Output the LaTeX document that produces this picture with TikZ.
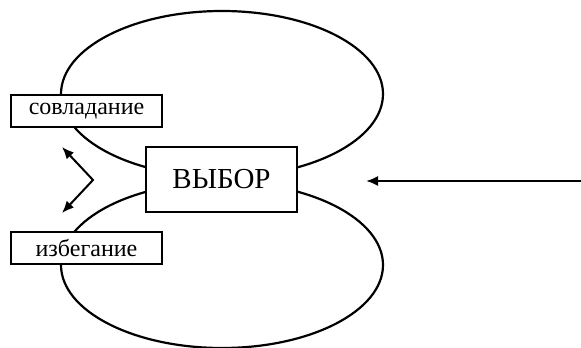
\documentclass[tikz,border=0pt]{standalone}
\usepackage{fontspec}
\setmainfont{Liberation Serif}
\usetikzlibrary{arrows.meta}
\begin{document}
\begin{tikzpicture}[x=1pt,y=-1pt,
  loop/.style={line width=2.2pt},
  box/.style={draw,line width=2.2pt,fill=white,inner sep=0pt},
  arr/.style={line width=2pt,-{Latex[length=12pt,width=10pt]}},
  darr/.style={line width=2pt,{Latex[length=12pt,width=10pt]}-{Latex[length=12pt,width=10pt]}}]
\useasboundingbox (0,0) rectangle (581,348);
\draw[loop] (222,94) ellipse [x radius=161, y radius=83];
\draw[loop] (222,265) ellipse [x radius=161, y radius=83];
\node[box,minimum width=151pt,minimum height=65pt,font=\fontsize{29}{31}\selectfont] (vybor) at (221.5,179.5) {ВЫБОР};
\node[box,minimum width=151pt,minimum height=32pt,font=\fontsize{24}{26}\selectfont] (sov) at (86.5,111) {совладание};
\node[box,minimum width=151pt,minimum height=32pt,font=\fontsize{24}{26}\selectfont] (izb) at (86.5,248) {избегание};
\coordinate (v) at (93,180);
\coordinate (tu) at (62,147);
\coordinate (td) at (62,213);
\draw[darr] (tu) -- (v) -- (td);
\coordinate (src) at (581,181);
\coordinate (tip) at (366,181);
\draw[arr] (src) -- (tip);
\end{tikzpicture}
\end{document}
